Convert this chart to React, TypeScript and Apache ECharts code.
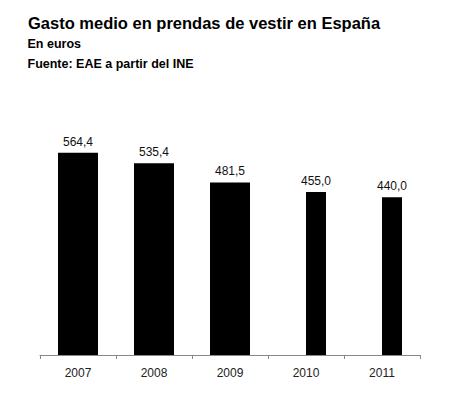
import React, { useEffect, useRef } from "react";
import * as echarts from "echarts";

const years = ["2007", "2008", "2009", "2010", "2011"];
const wideBars = [564.4, 535.4, 481.5, "-", "-"];
const narrowBars = ["-", "-", "-", 455.0, 440.0];
const emptySlot = ["-", "-", "-", "-", "-"];
const titleText = "Gasto medio en prendas de vestir en España";
const subText1 = "En euros";
const subText2 = "Fuente: EAE a partir del INE";

const fmt = (p: any) => Number(p.value).toFixed(1).replace(".", ",");

export default function App() {
  const ref = useRef<HTMLDivElement>(null);
  useEffect(() => {
    if (!ref.current) return;
    const chart = echarts.init(ref.current, null, { renderer: "svg" });
    const label = {
      show: true,
      position: "top",
      formatter: fmt,
      color: "#111",
      fontSize: 12,
      fontFamily: "'Liberation Sans Narrow', 'Arial Narrow', 'Liberation Sans', sans-serif",
    };
    chart.setOption({
      animation: false,
      backgroundColor: "#fff",
      grid: { left: 40, right: 42, top: 140, bottom: 50 },
      graphic: [
        {
          type: "text",
          x: 28,
          y: 22.5,
          style: {
            text: titleText,
            font: "bold 16.5px 'Liberation Sans', Arial, sans-serif",
            fill: "#000",
            verticalAlign: "middle",
          },
        },
        {
          type: "text",
          x: 27.5,
          y: 44,
          style: {
            text: subText1,
            font: "bold 12.5px 'Liberation Sans', Arial, sans-serif",
            fill: "#000",
            verticalAlign: "middle",
          },
        },
        {
          type: "text",
          x: 27.5,
          y: 64,
          style: {
            text: subText2,
            font: "bold 12.5px 'Liberation Sans', Arial, sans-serif",
            fill: "#000",
            verticalAlign: "middle",
          },
        },
      ],
      xAxis: [
        {
          type: "category",
          data: years,
          boundaryGap: true,
          axisLine: { lineStyle: { color: "#888", width: 1 } },
          axisTick: { show: true, length: 4, inside: false, lineStyle: { color: "#888" } },
          axisLabel: {
            color: "#222",
            fontSize: 12,
            margin: 12,
            fontFamily: "'Liberation Sans', Arial, sans-serif",
          },
        },
        {
          type: "category",
          data: years,
          show: false,
          position: "bottom",
        },
      ],
      yAxis: {
        type: "value",
        min: 0,
        max: 600,
        show: false,
        splitLine: { show: false },
      },
      series: [
        {
          type: "bar",
          name: "a",
          xAxisIndex: 0,
          data: wideBars,
          barWidth: 40,
          itemStyle: { color: "#000" },
          label,
        },
        {
          type: "bar",
          name: "slot",
          xAxisIndex: 1,
          data: emptySlot,
          barWidth: 20,
          barGap: "0%",
          itemStyle: { color: "#000" },
        },
        {
          type: "bar",
          name: "b",
          xAxisIndex: 1,
          data: narrowBars,
          barWidth: 20,
          barGap: "0%",
          itemStyle: { color: "#000" },
          label,
        },
      ],
    });
    return () => chart.dispose();
  }, []);
  return (
    <div
      ref={ref}
      style={{ position: "fixed", left: 0, top: 0, width: 462, height: 405 }}
    />
  );
}
